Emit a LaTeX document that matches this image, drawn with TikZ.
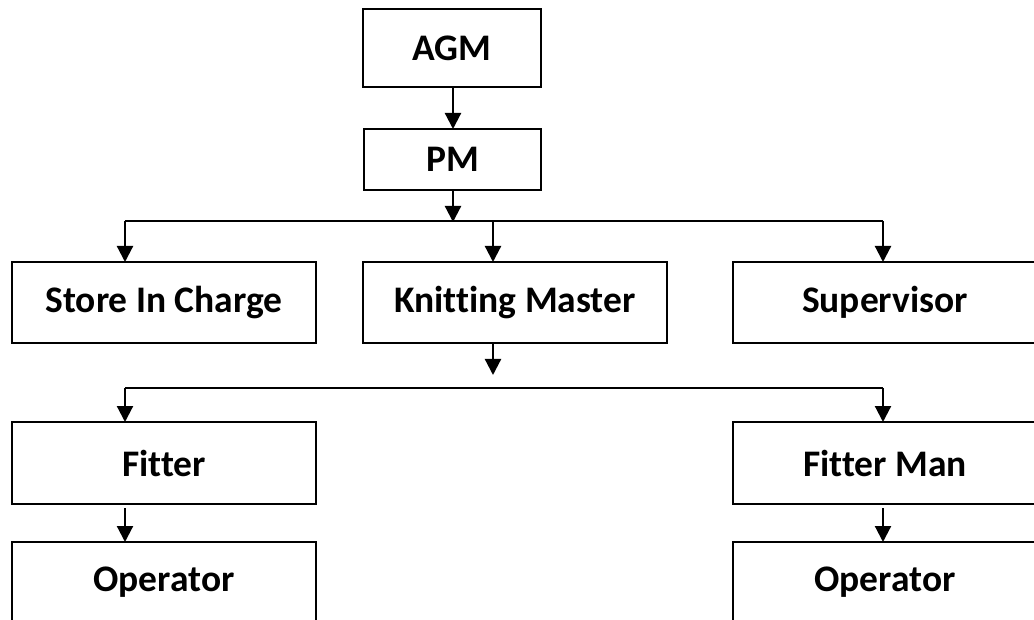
\documentclass[tikz,border=0pt]{standalone}
\usepackage{fontspec}
\setmainfont[Ligatures=NoCommon]{Carlito}
\usetikzlibrary{arrows.meta}
\tikzset{
  box/.style={draw, line width=2pt, inner sep=0pt, font=\bfseries\fontsize{37.5}{45}\selectfont},
  conn/.style={line width=2pt},
  arr/.style={line width=2.2pt, -{Triangle[width=16pt,length=16pt]}, shorten >=-1pt}
}
\begin{document}
\begin{tikzpicture}[x=1pt,y=-1pt]
\useasboundingbox (0,0) rectangle (1034,620);
\clip (0,0) rectangle (1034,620);
\fill[white] (0,0) rectangle (1034,620);
% boxes
\node[box, minimum width=178pt, minimum height=78pt] (agm) at (452,48) {AGM};
\node[box, minimum width=177pt, minimum height=61pt] (pm) at (452.5,159.5) {PM};
\node[box, minimum width=304pt, minimum height=81pt] (store) at (164,302.5) {Store In Charge};
\node[box, minimum width=304pt, minimum height=81pt] (km) at (515,302.5) {Knitting Master};
\node[box, minimum width=304pt, minimum height=81pt] (sup) at (885,302.5) {Supervisor};
\node[box, minimum width=304pt, minimum height=82pt] (fit) at (164,463) {Fitter};
\node[box, minimum width=304pt, minimum height=82pt] (fitman) at (885,463) {Fitter Man};
\node[box, minimum width=304pt, minimum height=81pt] (op1) at (164,582.5) {Operator};
\node[box, minimum width=304pt, minimum height=81pt] (op2) at (885,582.5) {Operator};
% junction coordinates
\coordinate (j1) at (453,221);
\coordinate (l1a) at (125,221);
\coordinate (l1m) at (493,221);
\coordinate (l1b) at (883,221);
\coordinate (k2) at (493,374);
\coordinate (l2a) at (125,388);
\coordinate (l2b) at (883,388);
\coordinate (f1) at (125,508);
\coordinate (f2) at (883,508);
% connectors
\draw[arr] (agm.south -| j1) -- (pm.north -| j1);
\draw[arr] (pm.south -| j1) -- (j1);
\draw[conn] (l1a) -- (l1b);
\draw[arr] (l1a) -- (store.north -| l1a);
\draw[arr] (l1m) -- (km.north -| l1m);
\draw[arr] (l1b) -- (sup.north -| l1b);
\draw[arr] (km.south -| k2) -- (k2);
\draw[conn] (l2a) -- (l2b);
\draw[arr] (l2a) -- (fit.north -| l2a);
\draw[arr] (l2b) -- (fitman.north -| l2b);
\draw[arr] (f1) -- (op1.north -| f1);
\draw[arr] (f2) -- (op2.north -| f2);
\end{tikzpicture}
\end{document}
